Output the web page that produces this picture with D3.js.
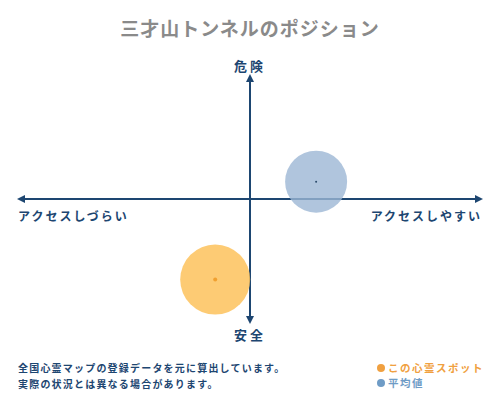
<!DOCTYPE html>
<html>
<head>
<meta charset="utf-8">
<script src="https://cdn.jsdelivr.net/npm/d3@7"></script>
<style>
  body { margin: 0; background: #fff; }
  text { font-family: "Noto Sans CJK JP", sans-serif; }
</style>
</head>
<body>
<svg width="500" height="400"></svg>
<script>
// chart data
var title = "三才山トンネルのポジション";
var axisLabels = ["危険", "安全", "アクセスしづらい", "アクセスしやすい"];
var seriesNames = ["この心霊スポット", "平均値"];
var accessValues = [-15, 28.5];   // x: -100 (しづらい) .. 100 (しやすい)
var dangerValues = [-65, 14];     // y: -100 (安全) .. 100 (危険)
var spreadValues = [35, 31];      // bubble radius
var notes = ["全国心霊マップの登録データを元に算出しています。", "実際の状況とは異なる場合があります。"];

var colors = ["#fdc25c", "#9cb6d4"];
var dotColors = ["#f0a030", "#2a4a6a"];
var legendColors = ["#f0a040", "#6f9cc6"];
var navy = "#1d4671";

var svg = d3.select("svg");
var x = d3.scaleLinear().domain([-100, 100]).range([18, 482]);
var y = d3.scaleLinear().domain([-100, 100]).range([323, 75]);

svg.append("text")
  .attr("x", 250).attr("y", 36)
  .attr("text-anchor", "middle")
  .style("font-size", "19px").style("font-weight", "bold")
  .style("letter-spacing", "1px")
  .attr("fill", "#8a8a8a")
  .text(title);

var defs = svg.append("defs");
defs.append("marker")
  .attr("id", "arr")
  .attr("viewBox", "0 0 10 10")
  .attr("refX", 5).attr("refY", 5)
  .attr("markerWidth", 4).attr("markerHeight", 4)
  .attr("orient", "auto-start-reverse")
  .append("path").attr("d", "M0,0 L10,5 L0,10 z").attr("fill", navy);

// bubbles
var data = seriesNames.map(function(n, i) {
  return {name: n, ax: accessValues[i], dy: dangerValues[i], r: spreadValues[i]};
});

// horizontal axis
svg.append("line")
  .attr("x1", x(-100) + 3).attr("x2", x(100) - 3)
  .attr("y1", y(0)).attr("y2", y(0))
  .attr("stroke", navy).attr("stroke-width", 2)
  .attr("marker-start", "url(#arr)").attr("marker-end", "url(#arr)");

// vertical axis
svg.append("line")
  .attr("x1", x(0)).attr("x2", x(0))
  .attr("y1", y(100) + 3).attr("y2", y(-100) - 3)
  .attr("stroke", navy).attr("stroke-width", 2)
  .attr("marker-start", "url(#arr)").attr("marker-end", "url(#arr)");

svg.selectAll("circle.bubble")
  .data(data).enter().append("circle")
  .attr("class", "bubble")
  .attr("cx", function(d) { return x(d.ax); })
  .attr("cy", function(d) { return y(d.dy); })
  .attr("r", function(d) { return d.r; })
  .attr("fill", function(d, i) { return colors[i]; })
  .attr("fill-opacity", function(d, i) { return i == 0 ? 0.85 : 0.8; });

svg.selectAll("circle.center")
  .data(data).enter().append("circle")
  .attr("class", "center")
  .attr("cx", function(d) { return x(d.ax); })
  .attr("cy", function(d) { return y(d.dy); })
  .attr("r", function(d, i) { return i == 0 ? 2 : 1; })
  .attr("fill", function(d, i) { return dotColors[i]; });

// axis labels
var lab = svg.append("g").attr("fill", navy).style("font-weight", "bold");
lab.append("text").attr("x", x(0)).attr("y", 71).attr("text-anchor", "middle")
  .style("font-size", "13px").style("letter-spacing", "3px").text(axisLabels[0]);
lab.append("text").attr("x", x(0)).attr("y", 340).attr("text-anchor", "middle")
  .style("font-size", "13px").style("letter-spacing", "3px").text(axisLabels[1]);
lab.append("text").attr("x", 18).attr("y", 221)
  .style("font-size", "12px").style("letter-spacing", "2px").text(axisLabels[2]);
lab.append("text").attr("x", 482).attr("y", 221).attr("text-anchor", "end")
  .style("font-size", "12px").style("letter-spacing", "2px").text(axisLabels[3]);

// notes
svg.selectAll("text.note")
  .data(notes).enter().append("text")
  .attr("class", "note")
  .attr("x", 18)
  .attr("y", function(d, i) { return 372 + i * 16; })
  .attr("fill", navy)
  .style("font-size", "10px").style("font-weight", "bold")
  .style("letter-spacing", "1.2px")
  .text(function(d) { return d; });

// legend
var leg = svg.selectAll("g.leg")
  .data(seriesNames).enter().append("g")
  .attr("class", "leg")
  .attr("transform", function(d, i) { return "translate(381," + (368 + i * 15) + ")"; });
leg.append("circle").attr("r", 4)
  .attr("fill", function(d, i) { return legendColors[i]; });
leg.append("text").attr("x", 7).attr("y", 4)
  .attr("fill", function(d, i) { return legendColors[i]; })
  .style("font-size", "10.5px").style("font-weight", "bold")
  .style("letter-spacing", "1.5px")
  .text(function(d) { return d; });
</script>
</body>
</html>
